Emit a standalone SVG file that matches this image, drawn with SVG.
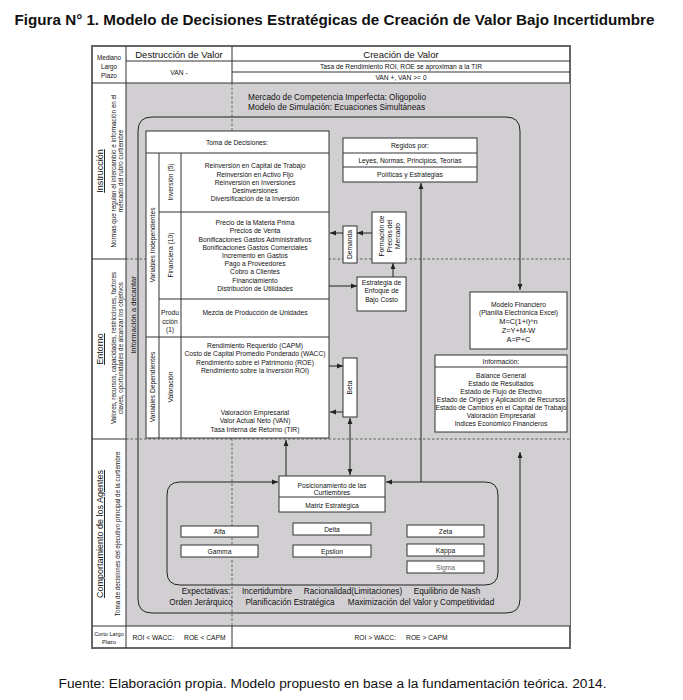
<svg xmlns="http://www.w3.org/2000/svg" width="683" height="700" viewBox="0 0 683 700">
<defs>
<marker id="ah" viewBox="0 0 10 10" refX="10" refY="5" markerWidth="6" markerHeight="6" markerUnits="userSpaceOnUse" orient="auto-start-reverse"><path d="M0,1 L10,5 L0,9 z" fill="#222"/></marker>
<style>
text{font-family:"Liberation Sans",Arial,sans-serif;fill:#111}
.t{font-size:6.7px;text-anchor:middle}
.s{font-size:6.3px;text-anchor:middle}
.h{font-size:9.5px;text-anchor:middle}
.lb{font-size:8.2px;text-anchor:middle}
.ti{font-size:9px;text-anchor:middle;text-decoration:underline}
.box{fill:#fff;stroke:#333;stroke-width:1}
.ln{stroke:#333;stroke-width:1;fill:none}
.dash{stroke:#444;stroke-width:0.8;stroke-dasharray:2.5,2;fill:none}
.con{stroke:#222;stroke-width:1;fill:none}
</style>
</defs>
<rect width="683" height="700" fill="#fff"/>
<text x="334.5" y="25" style="font-size:15.2px;font-weight:bold;text-anchor:middle">Figura N° 1. Modelo de Decisiones Estratégicas de Creación de Valor Bajo Incertidumbre</text>

<g id="frame">
<rect x="92" y="46" width="478" height="602" fill="#fff" stroke="#666" stroke-width="2"/>
<rect x="126" y="83" width="444" height="543" fill="#d1cfd1"/>
<line class="ln" x1="126" y1="46" x2="126" y2="648"/>
<line class="ln" x1="232" y1="46" x2="232" y2="83"/>
<line class="ln" x1="232" y1="626" x2="232" y2="648"/>
<line class="ln" x1="126" y1="61" x2="570" y2="61"/>
<line class="ln" x1="232" y1="72" x2="570" y2="72"/>
<line class="ln" x1="92" y1="83" x2="570" y2="83"/>
<line class="ln" x1="92" y1="626" x2="570" y2="626"/>
<line class="ln" x1="92" y1="259" x2="126" y2="259"/>
<line class="ln" x1="92" y1="439" x2="126" y2="439"/>
<line class="dash" x1="232" y1="83" x2="232" y2="626"/>
<line class="dash" x1="126" y1="259" x2="570" y2="259"/>
<line class="dash" x1="126" y1="439" x2="570" y2="439"/>
</g>

<g id="header">
<text class="s" x="109" y="60">Mediano</text>
<text class="s" x="109" y="69">Largo</text>
<text class="s" x="109" y="78">Plazo</text>
<text class="h" x="179" y="58">Destrucción de Valor</text>
<text class="h" x="401" y="58">Creación de Valor</text>
<text class="t" x="179" y="75">VAN -</text>
<text class="t" x="401" y="69">Tasa de Rendimiento ROI, ROE se aproximan a la TIR</text>
<text class="t" x="401" y="80">VAN +, VAN &gt;= 0</text>
</g>

<g id="footer-row">
<text style="font-size:5.6px;text-anchor:middle" x="109" y="636">Corto Largo</text>
<text style="font-size:5.6px;text-anchor:middle" x="109" y="644">Plazo</text>
<text class="t" x="179" y="639.5">ROI &lt; WACC:<tspan dx="10">ROE &lt; CAPM</tspan></text>
<text class="t" x="401" y="639.5">ROI &gt; WACC:<tspan dx="10">ROE &gt; CAPM</tspan></text>
</g>

<g id="side-labels">
<text class="ti" transform="translate(103,171) rotate(-90)">Instrucción</text>
<text class="s" transform="translate(116,171) rotate(-90)">Normas que regulan el intercambio e información en el</text>
<text class="s" transform="translate(123,171) rotate(-90)">mercado del rubro curtiembre</text>
<text class="ti" transform="translate(103,349) rotate(-90)">Entorno</text>
<text class="s" transform="translate(116,348) rotate(-90)">Valores, recursos, capacidades, restricciones, factores</text>
<text class="s" transform="translate(123,348) rotate(-90)">claves, oportunidades de alcanzar los objetivos</text>
<text style="font-size:7.6px;text-anchor:middle" transform="translate(135.5,315) rotate(-90)">Información a decantar</text>
<text class="ti" transform="translate(103,534) rotate(-90)">Comportamiento de los Agentes</text>
<text class="s" transform="translate(120,534) rotate(-90)">Toma de decisiones del ejecutivo principal de la curtiembre</text>
</g>

<g id="market">
<text style="font-size:8.3px" x="248" y="99.5">Mercado de Competencia Imperfecta: Oligopolio</text>
<text style="font-size:8.3px" x="248" y="110">Modelo de Simulación: Ecuaciones Simultáneas</text>
</g>

<g id="connectors">
<path class="con" d="M520,452 L520,599 Q520,613 506,613 L152,613 Q138,613 138,599 L138,131 Q138,117 152,117 L506,117 Q520,117 520,131 L520,290" marker-start="url(#ah)" marker-end="url(#ah)"/>
<path class="con" d="M421,482 L485,482 Q498,482 498,495 L498,572 Q498,585 485,585 L180,585 Q167,585 167,572 L167,495 Q167,482 180,482 L278,482" marker-end="url(#ah)"/>
<path class="con" d="M421,482 L386,482" marker-end="url(#ah)"/>
<path class="con" d="M421,482 L421,183" marker-end="url(#ah)"/>
<path class="con" d="M286,476 L286,440" marker-end="url(#ah)"/>
<path class="con" d="M350,418 L350,475" marker-start="url(#ah)" marker-end="url(#ah)"/>
<path class="con" d="M329,366 L343,366" marker-end="url(#ah)"/>
<path class="con" d="M343,412 L330,412" marker-end="url(#ah)"/>
<path class="con" d="M343,233 L330,233" marker-end="url(#ah)"/>
<path class="con" d="M372,233 L357,233" marker-end="url(#ah)"/>
<path class="con" d="M393,277 L393,263" marker-end="url(#ah)"/>
<path class="con" d="M329,286 L357,286" marker-end="url(#ah)"/>
</g>

<g id="toma">
<rect class="box" x="146" y="131" width="183" height="307"/>
<line class="ln" x1="146" y1="153" x2="329" y2="153"/>
<line class="ln" x1="159" y1="153" x2="159" y2="438"/>
<line class="ln" x1="181" y1="153" x2="181" y2="438"/>
<line class="ln" x1="159" y1="212" x2="329" y2="212"/>
<line class="ln" x1="159" y1="299" x2="329" y2="299"/>
<line class="ln" x1="146" y1="337" x2="329" y2="337"/>
<text class="t" x="237" y="144.5">Toma de Decisiones:</text>
<text class="t" transform="translate(155,245) rotate(-90)">Variables Independientes</text>
<text class="t" transform="translate(172.5,182) rotate(-90)">Inversión (5)</text>
<text class="t" transform="translate(172.5,255) rotate(-90)">Financiera (10)</text>
<text class="t" x="170" y="315">Produ</text>
<text class="t" x="170" y="324">cción</text>
<text class="t" x="170" y="332">(1)</text>
<text class="t" transform="translate(155,387) rotate(-90)">Variables Dependientes</text>
<text class="t" transform="translate(172.5,387) rotate(-90)">Valoración</text>
<text class="t" x="255" y="168">Reinversión en Capital de Trabajo</text>
<text class="t" x="255" y="176.5">Reinversión en Activo Fijo</text>
<text class="t" x="255" y="184.5">Reinversión en Inversiones</text>
<text class="t" x="255" y="192.5">Desinversiones</text>
<text class="t" x="255" y="201">Diversificación de la Inversión</text>
<text class="t" x="255" y="225">Precio de la Materia Prima</text>
<text class="t" x="255" y="233.3">Precios de Venta</text>
<text class="t" x="255" y="241.5">Bonificaciones Gastos Administrativos</text>
<text class="t" x="255" y="249.6">Bonificaciones Gastos Comerciales</text>
<text class="t" x="255" y="258">Incremento en Gastos</text>
<text class="t" x="255" y="266">Pago a Proveedores</text>
<text class="t" x="255" y="274.3">Cobro a Clientes</text>
<text class="t" x="255" y="282.5">Financiamiento</text>
<text class="t" x="255" y="290.6">Distribución de Utilidades</text>
<text class="t" x="255" y="315">Mezcla de Producción de Unidades</text>
<text class="t" x="255" y="348">Rendimiento Requerido (CAPM)</text>
<text class="t" x="255" y="356.3">Costo de Capital Promedio Ponderado (WACC)</text>
<text class="t" x="255" y="364.5">Rendimiento sobre el Patrimonio (ROE)</text>
<text class="t" x="255" y="372.8">Rendimiento sobre la Inversión ROI)</text>
<text class="t" x="255" y="415">Valoración Empresarial</text>
<text class="t" x="255" y="423.3">Valor Actual Neto (VAN)</text>
<text class="t" x="255" y="431.5">Tasa Interna de Retorno (TIR)</text>
</g>

<g id="regidos">
<rect class="box" x="343" y="138" width="134" height="44"/>
<line class="ln" x1="343" y1="153" x2="477" y2="153"/>
<line class="ln" x1="343" y1="167" x2="477" y2="167"/>
<text class="t" x="410" y="148">Regidos por:</text>
<text class="t" x="410" y="162.5">Leyes, Normas, Principios, Teorías</text>
<text class="t" x="410" y="177">Políticas y Estrategias</text>
</g>

<g id="demanda">
<rect class="box" x="343" y="226" width="14" height="37"/>
<text class="t" transform="translate(352.3,244.5) rotate(-90)">Demanda</text>
</g>

<g id="formacion">
<rect class="box" x="372" y="212" width="34" height="51"/>
<text class="t" transform="translate(383.5,236) rotate(-90)">Formación de</text>
<text class="t" transform="translate(391.5,236) rotate(-90)">Precios del</text>
<text class="t" transform="translate(399.5,236) rotate(-90)">Mercado</text>
</g>

<g id="estrategia">
<rect class="box" x="357" y="277" width="49" height="34"/>
<text class="t" x="381.5" y="284.5">Estrategia de</text>
<text class="t" x="381.5" y="293">Enfoque de</text>
<text class="t" x="381.5" y="301.5">Bajo Costo</text>
</g>

<g id="beta">
<rect class="box" x="343" y="358" width="14" height="59"/>
<text class="t" transform="translate(352.3,387.5) rotate(-90)">Beta</text>
</g>

<g id="modelo">
<rect class="box" x="470" y="292" width="97" height="57"/>
<text class="t" x="518.5" y="306.5">Modelo Financiero</text>
<text class="t" x="518.5" y="315.3">(Planilla Electrónica Excel)</text>
<text style="font-size:7.4px;text-anchor:middle" x="518.5" y="323.5">M=C(1+i)^n</text>
<text style="font-size:7.4px;text-anchor:middle" x="518.5" y="332.5">Z=Y+M-W</text>
<text style="font-size:7.4px;text-anchor:middle" x="518.5" y="341.5">A=P+C</text>
</g>

<g id="informacion">
<rect class="box" x="435" y="355" width="132" height="77"/>
<line class="ln" x1="435" y1="367" x2="567" y2="367"/>
<text class="t" x="501" y="363.5">Información:</text>
<text class="t" x="501" y="377.5">Balance General</text>
<text class="t" x="501" y="385.5">Estado de Resultados</text>
<text class="t" x="501" y="393.5">Estado de Flujo de Efectivo</text>
<text class="t" x="501" y="401.6">Estado de Origen y Aplicación de Recursos</text>
<text class="t" x="501" y="409.8">Estado de Cambios en el Capital de Trabajo</text>
<text class="t" x="501" y="418">Valoración Empresarial</text>
<text class="t" x="501" y="426.3">Indices Económico Financieros</text>
</g>

<g id="posicionamiento">
<rect class="box" x="279" y="476" width="106" height="36"/>
<line class="ln" x1="279" y1="497" x2="385" y2="497"/>
<text class="t" x="332" y="487.5">Posicionamiento de las</text>
<text class="t" x="332" y="495.3">Curtiembres</text>
<text class="t" x="332" y="507.5">Matriz Estratégica</text>
</g>

<g id="alfa"><rect class="box" x="181" y="526" width="77" height="11"/><text class="t" x="219.5" y="534">Alfa</text></g>
<g id="gamma"><rect class="box" x="181" y="545" width="77" height="12"/><text class="t" x="219.5" y="553.5">Gamma</text></g>
<g id="delta"><rect class="box" x="293" y="523" width="78" height="12"/><text class="t" x="332" y="531.5">Delta</text></g>
<g id="epsilon"><rect class="box" x="293" y="545" width="78" height="12"/><text class="t" x="332" y="553.5">Epsilon</text></g>
<g id="zeta"><rect class="box" x="407" y="525" width="77" height="12"/><text class="t" x="445.5" y="533.5">Zeta</text></g>
<g id="kappa"><rect class="box" x="407" y="544" width="77" height="12"/><text class="t" x="445.5" y="552.5">Kappa</text></g>
<g id="sigma"><rect class="box" x="407" y="561" width="77" height="12"/><text class="t" x="445.5" y="569.5" style="fill:#666">Sigma</text></g>

<g id="agent-labels">
<text class="lb" x="206" y="594">Expectativas:</text>
<text class="lb" x="267" y="594">Incertidumbre</text>
<text class="lb" x="353" y="594">Racionalidad(Limitaciones)</text>
<text class="lb" x="447" y="594">Equilibrio de Nash</text>
<text class="lb" x="201" y="605">Orden Jerárquico</text>
<text class="lb" x="290" y="605">Planificación Estratégica</text>
<text class="lb" x="421" y="605">Maximización del Valor y Competitividad</text>
</g>

<text x="332.5" y="688" style="font-size:13.7px;text-anchor:middle">Fuente: Elaboración propia. Modelo propuesto en base a la fundamentación teórica. 2014.</text>
</svg>
